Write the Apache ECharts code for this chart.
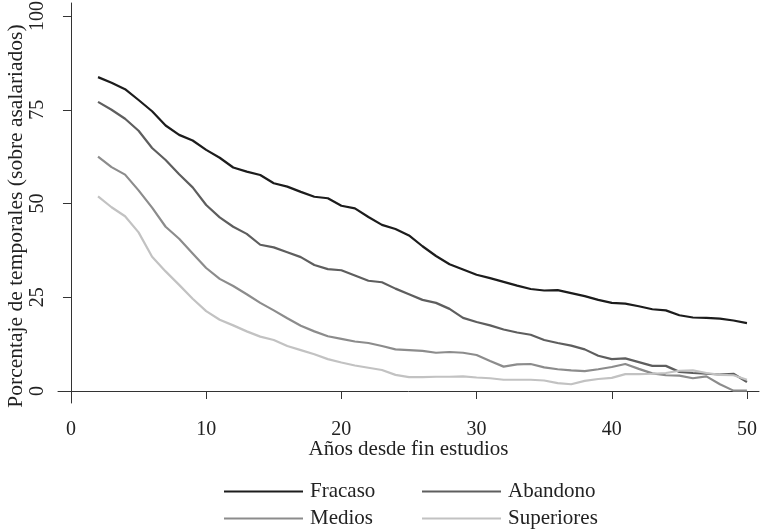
<!DOCTYPE html>
<html>
<head>
<meta charset="utf-8">
<script src="https://cdn.jsdelivr.net/npm/echarts@6/dist/echarts.min.js"></script>
<style>html,body{margin:0;padding:0;background:#fff}#c{width:760px;height:531px}</style>
</head>
<body>
<div id="c"></div>
<script>
var years = [2,3,4,5,6,7,8,9,10,11,12,13,14,15,16,17,18,19,20,21,22,23,24,25,26,27,28,29,30,31,32,33,34,35,36,37,38,39,40,41,42,43,44,45,46,47,48,49,50];
var fracaso = [83.7,82.2,80.5,77.6,74.6,70.8,68.3,66.8,64.3,62.2,59.6,58.5,57.6,55.4,54.5,53.1,51.8,51.4,49.4,48.7,46.4,44.3,43.2,41.5,38.6,36.0,33.8,32.4,31.0,30.1,29.1,28.1,27.2,26.8,26.9,26.1,25.3,24.3,23.5,23.3,22.6,21.8,21.5,20.2,19.6,19.5,19.3,18.8,18.1];
var abandono = [77.1,75.0,72.6,69.4,64.8,61.6,57.8,54.3,49.6,46.3,43.8,41.9,39.0,38.3,37.0,35.7,33.6,32.5,32.2,30.8,29.4,29.0,27.3,25.8,24.3,23.5,21.9,19.5,18.4,17.5,16.4,15.6,15.0,13.6,12.8,12.1,11.1,9.4,8.5,8.7,7.7,6.7,6.7,5.1,4.8,4.6,4.4,4.6,2.4];
var medios = [62.5,59.7,57.7,53.5,48.9,43.8,40.6,36.7,32.8,29.9,28.0,25.8,23.5,21.5,19.4,17.4,15.9,14.6,13.9,13.2,12.8,12.0,11.1,10.9,10.7,10.2,10.4,10.2,9.6,8.0,6.5,7.1,7.2,6.3,5.8,5.5,5.3,5.8,6.4,7.2,5.9,4.7,4.2,4.1,3.4,3.9,1.8,0.1,0.1];
var superiores = [51.9,49.0,46.6,42.3,35.8,31.9,28.3,24.6,21.3,19.0,17.5,15.9,14.5,13.6,12.0,10.9,9.8,8.5,7.6,6.8,6.2,5.6,4.3,3.7,3.7,3.8,3.8,3.9,3.6,3.4,3.0,3.0,3.0,2.8,2.1,1.8,2.7,3.2,3.5,4.5,4.5,4.6,4.8,5.4,5.5,4.8,4.3,4.2,3.0];
var xTicks = [0,10,20,30,40,50];
var yTicks = [0,25,50,75,100];
var seriesNames = ['Fracaso','Abandono','Medios','Superiores'];
var seriesColors = ['#1c1c1c','#5e5e5e','#8c8c8c','#c2c2c2'];
var seriesData = [fracaso, abandono, medios, superiores];

var font = 'Liberation Serif';
var chart = echarts.init(document.getElementById('c'), null, {renderer:'canvas'});
function pairs(arr){ return years.map(function(y,i){ return [y, arr[i]]; }); }

function legendAt(name, left, top){
  return {
    icon: 'rect', itemWidth: 79, itemHeight: 2, itemGap: 0, left: left, top: top,
    textStyle: {fontFamily: font, fontSize: 21, color: '#222', padding: [0,0,0,2]},
    selectedMode: false, data: [name]
  };
}

chart.setOption({
  animation: false,
  textStyle: {fontFamily: font},
  grid: {left: 58, right: 1, top: 3, bottom: 128, containLabel: false, outerBoundsMode: 'none'},
  legend: [
    legendAt('Fracaso', 219, 476),
    legendAt('Abandono', 417, 476),
    legendAt('Medios', 219, 503),
    legendAt('Superiores', 417, 503)
  ],
  xAxis: {
    type: 'value', min: -0.96, max: 50.89,
    name: 'Años desde fin estudios', nameLocation: 'middle', nameGap: 36, nameMoveOverlap: false,
    nameTextStyle: {fontFamily: font, fontSize: 21, color: '#222'},
    axisLine: {show: true, lineStyle: {color: '#333', width: 1}},
    axisTick: {show: true, length: 8, lineStyle: {color: '#333'}, customValues: xTicks},
    axisLabel: {fontFamily: font, fontSize: 20, color: '#222', margin: 17, customValues: xTicks},
    splitLine: {show: false}
  },
  yAxis: {
    type: 'value', min: -3.2, max: 103.47,
    name: 'Porcentaje de temporales (sobre asalariados)', nameLocation: 'middle', nameGap: 31, nameRotate: 90, nameMoveOverlap: false,
    nameTextStyle: {fontFamily: font, fontSize: 21.5, color: '#222', padding: [0,26,0,0]},
    axisLine: {show: true, lineStyle: {color: '#333', width: 1}},
    axisTick: {show: true, length: 8, lineStyle: {color: '#333'}, customValues: yTicks},
    axisLabel: {fontFamily: font, fontSize: 20, color: '#222', rotate: 90, margin: 10, customValues: yTicks},
    splitLine: {show: false}
  },
  series: seriesNames.map(function(n, i){
    return {
      name: n, type: 'line', data: pairs(seriesData[i]), showSymbol: false, symbol: 'none',
      lineStyle: {color: seriesColors[i], width: 2.2}, itemStyle: {color: seriesColors[i]}
    };
  })
});
</script>
</body>
</html>
